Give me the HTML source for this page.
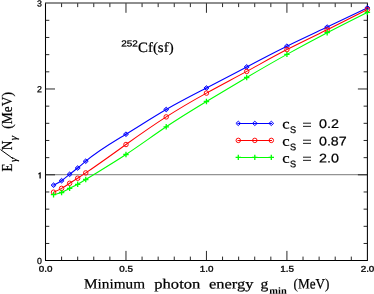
<!DOCTYPE html>
<html><head><meta charset="utf-8"><title>plot</title>
<style>
html,body{margin:0;padding:0;background:#fff;}
svg{display:block;will-change:transform;}
.se{font-family:"Liberation Serif",serif;fill:#000;stroke:#000;stroke-width:0.22px;}
.seb{font-family:"Liberation Serif",serif;fill:#000;font-weight:bold;}
.sa{font-family:"Liberation Sans",sans-serif;fill:#000;}
.tk{stroke:#000;stroke-width:0.25px;}
.tk2{stroke:#000;stroke-width:0.22px;}
.lt{stroke-width:0.22px;}
.tk3{stroke:#000;stroke-width:0.32px;}
.sab{font-family:"Liberation Sans",sans-serif;fill:#000;font-weight:bold;}
</style></head><body>
<svg width="374" height="294" viewBox="0 0 374 294">
<rect width="374" height="294" fill="#fff"/>
<line x1="45.50" y1="174.67" x2="367.40" y2="174.67" stroke="#939393" stroke-width="1.15"/>
<line x1="45.00" y1="3.00" x2="367.90" y2="3.00" stroke="#8e8e8e" stroke-width="1.9"/>
<g stroke="#000" stroke-width="1.05" fill="none">
<path d="M45.50 3.30 V260.40 H367.40 V3.30"/>
</g>
<g stroke="#111" stroke-width="0.9">
<line x1="61.59" y1="260.40" x2="61.59" y2="256.60"/>
<line x1="61.59" y1="3.30" x2="61.59" y2="7.10"/>
<line x1="77.69" y1="260.40" x2="77.69" y2="256.60"/>
<line x1="77.69" y1="3.30" x2="77.69" y2="7.10"/>
<line x1="93.78" y1="260.40" x2="93.78" y2="256.60"/>
<line x1="93.78" y1="3.30" x2="93.78" y2="7.10"/>
<line x1="109.88" y1="260.40" x2="109.88" y2="256.60"/>
<line x1="109.88" y1="3.30" x2="109.88" y2="7.10"/>
<line x1="125.97" y1="260.40" x2="125.97" y2="250.90"/>
<line x1="125.97" y1="3.30" x2="125.97" y2="12.80"/>
<line x1="142.07" y1="260.40" x2="142.07" y2="256.60"/>
<line x1="142.07" y1="3.30" x2="142.07" y2="7.10"/>
<line x1="158.17" y1="260.40" x2="158.17" y2="256.60"/>
<line x1="158.17" y1="3.30" x2="158.17" y2="7.10"/>
<line x1="174.26" y1="260.40" x2="174.26" y2="256.60"/>
<line x1="174.26" y1="3.30" x2="174.26" y2="7.10"/>
<line x1="190.35" y1="260.40" x2="190.35" y2="256.60"/>
<line x1="190.35" y1="3.30" x2="190.35" y2="7.10"/>
<line x1="206.45" y1="260.40" x2="206.45" y2="250.90"/>
<line x1="206.45" y1="3.30" x2="206.45" y2="12.80"/>
<line x1="222.55" y1="260.40" x2="222.55" y2="256.60"/>
<line x1="222.55" y1="3.30" x2="222.55" y2="7.10"/>
<line x1="238.64" y1="260.40" x2="238.64" y2="256.60"/>
<line x1="238.64" y1="3.30" x2="238.64" y2="7.10"/>
<line x1="254.73" y1="260.40" x2="254.73" y2="256.60"/>
<line x1="254.73" y1="3.30" x2="254.73" y2="7.10"/>
<line x1="270.83" y1="260.40" x2="270.83" y2="256.60"/>
<line x1="270.83" y1="3.30" x2="270.83" y2="7.10"/>
<line x1="286.92" y1="260.40" x2="286.92" y2="250.90"/>
<line x1="286.92" y1="3.30" x2="286.92" y2="12.80"/>
<line x1="303.02" y1="260.40" x2="303.02" y2="256.60"/>
<line x1="303.02" y1="3.30" x2="303.02" y2="7.10"/>
<line x1="319.12" y1="260.40" x2="319.12" y2="256.60"/>
<line x1="319.12" y1="3.30" x2="319.12" y2="7.10"/>
<line x1="335.21" y1="260.40" x2="335.21" y2="256.60"/>
<line x1="335.21" y1="3.30" x2="335.21" y2="7.10"/>
<line x1="351.31" y1="260.40" x2="351.31" y2="256.60"/>
<line x1="351.31" y1="3.30" x2="351.31" y2="7.10"/>
<line x1="45.50" y1="243.48" x2="49.30" y2="243.48"/>
<line x1="367.40" y1="243.48" x2="363.60" y2="243.48"/>
<line x1="45.50" y1="226.32" x2="49.30" y2="226.32"/>
<line x1="367.40" y1="226.32" x2="363.60" y2="226.32"/>
<line x1="45.50" y1="209.15" x2="49.30" y2="209.15"/>
<line x1="367.40" y1="209.15" x2="363.60" y2="209.15"/>
<line x1="45.50" y1="191.98" x2="49.30" y2="191.98"/>
<line x1="367.40" y1="191.98" x2="363.60" y2="191.98"/>
<line x1="45.50" y1="174.82" x2="55.00" y2="174.82"/>
<line x1="367.40" y1="174.82" x2="357.90" y2="174.82"/>
<line x1="45.50" y1="157.65" x2="49.30" y2="157.65"/>
<line x1="367.40" y1="157.65" x2="363.60" y2="157.65"/>
<line x1="45.50" y1="140.48" x2="49.30" y2="140.48"/>
<line x1="367.40" y1="140.48" x2="363.60" y2="140.48"/>
<line x1="45.50" y1="123.32" x2="49.30" y2="123.32"/>
<line x1="367.40" y1="123.32" x2="363.60" y2="123.32"/>
<line x1="45.50" y1="106.15" x2="49.30" y2="106.15"/>
<line x1="367.40" y1="106.15" x2="363.60" y2="106.15"/>
<line x1="45.50" y1="88.98" x2="55.00" y2="88.98"/>
<line x1="367.40" y1="88.98" x2="357.90" y2="88.98"/>
<line x1="45.50" y1="71.82" x2="49.30" y2="71.82"/>
<line x1="367.40" y1="71.82" x2="363.60" y2="71.82"/>
<line x1="45.50" y1="54.65" x2="49.30" y2="54.65"/>
<line x1="367.40" y1="54.65" x2="363.60" y2="54.65"/>
<line x1="45.50" y1="37.48" x2="49.30" y2="37.48"/>
<line x1="367.40" y1="37.48" x2="363.60" y2="37.48"/>
<line x1="45.50" y1="20.32" x2="49.30" y2="20.32"/>
<line x1="367.40" y1="20.32" x2="363.60" y2="20.32"/>
</g>
<path d="M53.55 185.20 C56.23 183.88 58.91 182.55 61.59 180.70 C64.28 178.85 66.96 176.47 69.64 174.30 C72.33 172.13 75.01 170.17 77.69 168.00 C80.37 165.83 83.05 163.44 85.74 161.20 C99.15 149.99 112.56 142.38 125.97 134.20 C139.39 126.02 152.80 117.27 166.21 109.50 C179.62 101.73 193.04 94.94 206.45 88.00 C219.86 81.06 233.28 73.96 246.69 66.90 C260.10 59.84 273.51 52.80 286.92 46.20 C300.34 39.60 313.75 33.43 327.16 27.10 C340.57 20.77 353.99 14.29 367.40 7.80" fill="none" stroke="#0000ff" stroke-width="1.08"/>
<path d="M51.05 185.20 L53.55 182.90 L56.05 185.20 L53.55 187.50 Z" fill="#0000ff" fill-opacity="0.4" stroke="#0000ff" stroke-width="0.95"/>
<path d="M59.09 180.70 L61.59 178.40 L64.09 180.70 L61.59 183.00 Z" fill="#0000ff" fill-opacity="0.4" stroke="#0000ff" stroke-width="0.95"/>
<path d="M67.14 174.30 L69.64 172.00 L72.14 174.30 L69.64 176.60 Z" fill="#0000ff" fill-opacity="0.4" stroke="#0000ff" stroke-width="0.95"/>
<path d="M75.19 168.00 L77.69 165.70 L80.19 168.00 L77.69 170.30 Z" fill="#0000ff" fill-opacity="0.4" stroke="#0000ff" stroke-width="0.95"/>
<path d="M83.24 161.20 L85.74 158.90 L88.24 161.20 L85.74 163.50 Z" fill="#0000ff" fill-opacity="0.4" stroke="#0000ff" stroke-width="0.95"/>
<path d="M123.47 134.20 L125.97 131.90 L128.47 134.20 L125.97 136.50 Z" fill="#0000ff" fill-opacity="0.4" stroke="#0000ff" stroke-width="0.95"/>
<path d="M163.71 109.50 L166.21 107.20 L168.71 109.50 L166.21 111.80 Z" fill="#0000ff" fill-opacity="0.4" stroke="#0000ff" stroke-width="0.95"/>
<path d="M203.95 88.00 L206.45 85.70 L208.95 88.00 L206.45 90.30 Z" fill="#0000ff" fill-opacity="0.4" stroke="#0000ff" stroke-width="0.95"/>
<path d="M244.19 66.90 L246.69 64.60 L249.19 66.90 L246.69 69.20 Z" fill="#0000ff" fill-opacity="0.4" stroke="#0000ff" stroke-width="0.95"/>
<path d="M284.42 46.20 L286.92 43.90 L289.42 46.20 L286.92 48.50 Z" fill="#0000ff" fill-opacity="0.4" stroke="#0000ff" stroke-width="0.95"/>
<path d="M324.66 27.10 L327.16 24.80 L329.66 27.10 L327.16 29.40 Z" fill="#0000ff" fill-opacity="0.4" stroke="#0000ff" stroke-width="0.95"/>
<path d="M364.90 7.80 L367.40 5.50 L369.90 7.80 L367.40 10.10 Z" fill="#0000ff" fill-opacity="0.4" stroke="#0000ff" stroke-width="0.95"/>
<path d="M53.55 192.20 C56.23 191.05 58.91 189.90 61.59 188.40 C64.28 186.90 66.96 185.05 69.64 183.30 C72.33 181.55 75.01 179.91 77.69 178.20 C80.37 176.49 83.05 174.71 85.74 172.90 C99.15 163.86 112.56 154.09 125.97 144.50 C139.39 134.91 152.80 125.50 166.21 116.90 C179.62 108.30 193.04 100.50 206.45 93.10 C219.86 85.70 233.28 78.69 246.69 71.40 C260.10 64.11 273.51 56.54 286.92 49.60 C300.34 42.66 313.75 36.36 327.16 29.80 C340.57 23.24 353.99 16.42 367.40 9.60" fill="none" stroke="#ff0000" stroke-width="1.08"/>
<circle cx="53.55" cy="192.20" r="2.25" fill="none" stroke="#ff0000" stroke-width="0.95"/>
<circle cx="61.59" cy="188.40" r="2.25" fill="none" stroke="#ff0000" stroke-width="0.95"/>
<circle cx="69.64" cy="183.30" r="2.25" fill="none" stroke="#ff0000" stroke-width="0.95"/>
<circle cx="77.69" cy="178.20" r="2.25" fill="none" stroke="#ff0000" stroke-width="0.95"/>
<circle cx="85.74" cy="172.90" r="2.25" fill="none" stroke="#ff0000" stroke-width="0.95"/>
<circle cx="125.97" cy="144.50" r="2.25" fill="none" stroke="#ff0000" stroke-width="0.95"/>
<circle cx="166.21" cy="116.90" r="2.25" fill="none" stroke="#ff0000" stroke-width="0.95"/>
<circle cx="206.45" cy="93.10" r="2.25" fill="none" stroke="#ff0000" stroke-width="0.95"/>
<circle cx="246.69" cy="71.40" r="2.25" fill="none" stroke="#ff0000" stroke-width="0.95"/>
<circle cx="286.92" cy="49.60" r="2.25" fill="none" stroke="#ff0000" stroke-width="0.95"/>
<circle cx="327.16" cy="29.80" r="2.25" fill="none" stroke="#ff0000" stroke-width="0.95"/>
<circle cx="367.40" cy="9.60" r="2.25" fill="none" stroke="#ff0000" stroke-width="0.95"/>
<path d="M53.55 194.70 C56.23 194.14 58.91 193.58 61.59 192.50 C64.28 191.42 66.96 189.82 69.64 188.40 C72.33 186.98 75.01 185.76 77.69 184.30 C80.37 182.84 83.05 181.16 85.74 179.50 C99.15 171.19 112.56 163.34 125.97 154.50 C139.39 145.66 152.80 135.81 166.21 126.80 C179.62 117.79 193.04 109.60 206.45 101.50 C219.86 93.40 233.28 85.38 246.69 77.50 C260.10 69.62 273.51 61.89 286.92 54.40 C300.34 46.91 313.75 39.68 327.16 32.70 C340.57 25.72 353.99 19.01 367.40 12.30" fill="none" stroke="#00ff00" stroke-width="1.08"/>
<path d="M50.85 194.70 H56.25 M53.55 192.00 V197.40" fill="none" stroke="#00ff00" stroke-width="1.3"/>
<path d="M58.89 192.50 H64.30 M61.59 189.80 V195.20" fill="none" stroke="#00ff00" stroke-width="1.3"/>
<path d="M66.94 188.40 H72.34 M69.64 185.70 V191.10" fill="none" stroke="#00ff00" stroke-width="1.3"/>
<path d="M74.99 184.30 H80.39 M77.69 181.60 V187.00" fill="none" stroke="#00ff00" stroke-width="1.3"/>
<path d="M83.04 179.50 H88.44 M85.74 176.80 V182.20" fill="none" stroke="#00ff00" stroke-width="1.3"/>
<path d="M123.27 154.50 H128.67 M125.97 151.80 V157.20" fill="none" stroke="#00ff00" stroke-width="1.3"/>
<path d="M163.51 126.80 H168.91 M166.21 124.10 V129.50" fill="none" stroke="#00ff00" stroke-width="1.3"/>
<path d="M203.75 101.50 H209.15 M206.45 98.80 V104.20" fill="none" stroke="#00ff00" stroke-width="1.3"/>
<path d="M243.99 77.50 H249.39 M246.69 74.80 V80.20" fill="none" stroke="#00ff00" stroke-width="1.3"/>
<path d="M284.22 54.40 H289.62 M286.92 51.70 V57.10" fill="none" stroke="#00ff00" stroke-width="1.3"/>
<path d="M324.46 32.70 H329.86 M327.16 30.00 V35.40" fill="none" stroke="#00ff00" stroke-width="1.3"/>
<path d="M364.70 12.30 H370.10 M367.40 9.60 V15.00" fill="none" stroke="#00ff00" stroke-width="1.3"/>
<line x1="237.5" y1="123.40" x2="272" y2="123.40" stroke="#0000ff" stroke-width="1.05"/>
<path d="M235.90 123.40 L238.30 121.19 L240.70 123.40 L238.30 125.61 Z" fill="#0000ff" fill-opacity="0.1" stroke="#0000ff" stroke-width="0.95"/>
<path d="M252.40 123.40 L254.80 121.19 L257.20 123.40 L254.80 125.61 Z" fill="#0000ff" fill-opacity="0.1" stroke="#0000ff" stroke-width="0.95"/>
<path d="M268.90 123.40 L271.30 121.19 L273.70 123.40 L271.30 125.61 Z" fill="#0000ff" fill-opacity="0.1" stroke="#0000ff" stroke-width="0.95"/>
<text transform="translate(282.30,128.40) rotate(0.04)" class="se lt" font-size="14.2" textLength="7.40" lengthAdjust="spacingAndGlyphs">c</text>
<text transform="translate(290.00,132.90) rotate(0.04)" class="sa tk" font-size="9.6" textLength="6.10" lengthAdjust="spacingAndGlyphs">S</text>
<path d="M303 123.20 H311 M303 126.35 H311" stroke="#1a1a1a" stroke-width="1" fill="none"/>
<text transform="translate(319.00,128.10) rotate(0.04)" class="sa tk2" font-size="12.7" textLength="19.90" lengthAdjust="spacingAndGlyphs">0.2</text>
<line x1="237.5" y1="140.40" x2="272" y2="140.40" stroke="#ff0000" stroke-width="1.05"/>
<circle cx="238.30" cy="140.40" r="2.25" fill="none" stroke="#ff0000" stroke-width="0.95"/>
<circle cx="254.80" cy="140.40" r="2.25" fill="none" stroke="#ff0000" stroke-width="0.95"/>
<circle cx="271.30" cy="140.40" r="2.25" fill="none" stroke="#ff0000" stroke-width="0.95"/>
<text transform="translate(282.30,145.80) rotate(0.04)" class="se lt" font-size="14.2" textLength="7.40" lengthAdjust="spacingAndGlyphs">c</text>
<text transform="translate(290.00,150.30) rotate(0.04)" class="sa tk" font-size="9.6" textLength="6.10" lengthAdjust="spacingAndGlyphs">S</text>
<path d="M303 140.20 H311 M303 143.35 H311" stroke="#1a1a1a" stroke-width="1" fill="none"/>
<text transform="translate(319.00,145.50) rotate(0.04)" class="sa tk2" font-size="12.7" textLength="27.70" lengthAdjust="spacingAndGlyphs">0.87</text>
<line x1="237.5" y1="157.40" x2="272" y2="157.40" stroke="#00ff00" stroke-width="1.05"/>
<path d="M235.60 157.40 H241.00 M238.30 154.70 V160.10" fill="none" stroke="#00ff00" stroke-width="1.3"/>
<path d="M252.10 157.40 H257.50 M254.80 154.70 V160.10" fill="none" stroke="#00ff00" stroke-width="1.3"/>
<path d="M268.60 157.40 H274.00 M271.30 154.70 V160.10" fill="none" stroke="#00ff00" stroke-width="1.3"/>
<text transform="translate(282.30,162.80) rotate(0.04)" class="se lt" font-size="14.2" textLength="7.40" lengthAdjust="spacingAndGlyphs">c</text>
<text transform="translate(290.00,167.30) rotate(0.04)" class="sa tk" font-size="9.6" textLength="6.10" lengthAdjust="spacingAndGlyphs">S</text>
<path d="M303 157.20 H311 M303 160.35 H311" stroke="#1a1a1a" stroke-width="1" fill="none"/>
<text transform="translate(319.00,162.50) rotate(0.04)" class="sa tk2" font-size="12.7" textLength="19.90" lengthAdjust="spacingAndGlyphs">2.0</text>
<text transform="translate(45.60,271.80) rotate(0.04)" class="sa tk3" font-size="8.4" text-anchor="middle" textLength="13.70" lengthAdjust="spacingAndGlyphs">0.0</text>
<text transform="translate(126.07,271.80) rotate(0.04)" class="sa tk3" font-size="8.4" text-anchor="middle" textLength="13.70" lengthAdjust="spacingAndGlyphs">0.5</text>
<text transform="translate(206.55,271.80) rotate(0.04)" class="sa tk3" font-size="8.4" text-anchor="middle" textLength="13.70" lengthAdjust="spacingAndGlyphs">1.0</text>
<text transform="translate(287.02,271.80) rotate(0.04)" class="sa tk3" font-size="8.4" text-anchor="middle" textLength="13.70" lengthAdjust="spacingAndGlyphs">1.5</text>
<text transform="translate(367.50,271.80) rotate(0.04)" class="sa tk3" font-size="8.4" text-anchor="middle" textLength="13.70" lengthAdjust="spacingAndGlyphs">2.0</text>
<text transform="translate(41.90,263.90) rotate(0.04)" class="sa tk" font-size="8.8" text-anchor="end">0</text>
<path transform="translate(0,175.32)" d="M40.75 -3.0 V3.1 H39.45 V-1.3 L38.2 -0.75 V-1.75 Q39.4 -2.15 39.85 -3.0 Z" fill="#000"/>
<text transform="translate(41.90,92.23) rotate(0.04)" class="sa tk" font-size="8.8" text-anchor="end">2</text>
<text transform="translate(41.90,6.40) rotate(0.04)" class="sa tk" font-size="8.8" text-anchor="end">3</text>
<text transform="translate(121.20,46.40) rotate(0.04)" class="sa tk" font-size="8.8" textLength="16.60" lengthAdjust="spacingAndGlyphs">252</text>
<text transform="translate(138.00,51.90) rotate(0.04)" class="se" font-size="14.2" textLength="35.60" lengthAdjust="spacingAndGlyphs">Cf(sf)</text>
<text transform="translate(84.00,288.50) rotate(0.04)" class="se" font-size="14" textLength="61.00" lengthAdjust="spacingAndGlyphs">Minimum</text>
<text transform="translate(154.30,288.50) rotate(0.04)" class="se" font-size="14" textLength="46.00" lengthAdjust="spacingAndGlyphs">photon</text>
<text transform="translate(209.10,288.50) rotate(0.04)" class="se" font-size="14" textLength="44.30" lengthAdjust="spacingAndGlyphs">energy</text>
<text transform="translate(260.40,288.50) rotate(0.04)" class="se" font-size="14" textLength="7.80" lengthAdjust="spacingAndGlyphs">g</text>
<text transform="translate(269.30,293.70) rotate(0.04)" class="seb" font-size="9.5" textLength="17.40" lengthAdjust="spacingAndGlyphs">min</text>
<text transform="translate(293.60,288.50) rotate(0.04)" class="se" font-size="14.4" textLength="35.80" lengthAdjust="spacingAndGlyphs">(MeV)</text>
<g transform="translate(11.7,171.5) rotate(-90)">
<text x="0" y="0" class="se" font-size="14" textLength="7.8" lengthAdjust="spacingAndGlyphs">E</text>
<text x="9.5" y="5.2" class="se" font-size="11" font-style="italic">γ</text>
<line x1="12.9" y1="1.3" x2="21.9" y2="-11.2" stroke="#000" stroke-width="1"/>
<text x="21.3" y="0" class="se" font-size="14" textLength="9.6" lengthAdjust="spacingAndGlyphs">N</text>
<text x="31.3" y="5.2" class="se" font-size="11" font-style="italic">γ</text>
<text x="42.8" y="0" class="se" font-size="14.4" textLength="36.6" lengthAdjust="spacingAndGlyphs">(MeV)</text>
</g>
</svg>
</body></html>
